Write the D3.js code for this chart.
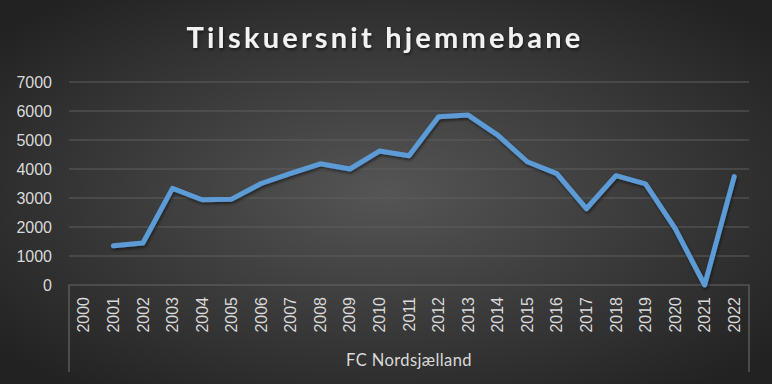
<!DOCTYPE html>
<html>
<head>
<meta charset="utf-8">
<script src="https://cdn.jsdelivr.net/npm/d3@7/dist/d3.min.js"></script>
<style>
	body { margin: 0; background: #262626; }
	svg { display: block; font-family: Lato, "Open Sans", sans-serif; }
</style>
</head>
<body>
<div id="chart"></div>
<script>
const years = ['2000','2001','2002','2003','2004','2005','2006','2007','2008','2009','2010','2011',
	'2012','2013','2014','2015','2016','2017','2018','2019','2020','2021','2022']
const attendance = [null, 1350, 1450, 3330, 2940, 2960, 3500, 3850, 4180, 4000, 4620, 4460,
	5800, 5860, 5170, 4250, 3840, 2630, 3770, 3490, 1950, 0, 3740]
const yTicks = [0, 1000, 2000, 3000, 4000, 5000, 6000, 7000]
const title = 'Tilskuersnit hjemmebane'
const group = 'FC Nordsjælland'

const W = 772, H = 384
const m = {left: 69, right: 23, top: 82, bottom: 99}

const $svg = d3.select('#chart').append('svg')
	.attr('width', W)
	.attr('height', H)

const defs = $svg.append('defs')
const grad = defs.append('radialGradient')
	.attr('id', 'bg')
	.attr('cx', '50%').attr('cy', '50%').attr('r', '65%')
grad.append('stop').attr('offset', '0%').attr('stop-color', '#555555')
grad.append('stop').attr('offset', '100%').attr('stop-color', '#222222')

const shadow = defs.append('filter').attr('id', 'shadow')
	.attr('x', '-10%').attr('y', '-10%').attr('width', '120%').attr('height', '130%')
shadow.append('feDropShadow')
	.attr('dx', 1).attr('dy', 2).attr('stdDeviation', 1.5)
	.attr('flood-color', '#000').attr('flood-opacity', 0.5)

$svg.append('rect')
	.attr('width', W).attr('height', H)
	.attr('fill', 'url(#bg)')

let x = d3.scaleBand()
	.domain(years)
	.range([m.left, W - m.right])

let y = d3.scaleLinear()
	.domain([0, 7000])
	.range([H - m.bottom, m.top])

// Title
$svg.append('text')
	.attr('x', 385)
	.attr('y', 48)
	.attr('text-anchor', 'middle')
	.attr('fill', '#f2f2f2')
	.style('font-size', '29px')
	.style('font-weight', 'bold')
	.style('letter-spacing', '3.2px')
	.attr('filter', 'url(#shadow)')
	.text(title)

// Gridlines
$svg.append('g')
	.selectAll('line')
	.data(yTicks.filter(d => d > 0))
	.enter()
	.append('line')
	.attr('x1', m.left).attr('x2', W - m.right)
	.attr('y1', d => y(d)).attr('y2', d => y(d))
	.attr('stroke', '#5e5e5e')
	.attr('stroke-width', 1.2)

// Y axis labels
const $yAxis = $svg.append('g')
	.attr('transform', `translate(${m.left - 17}, 0)`)
	.call(d3.axisLeft(y).tickValues(yTicks).tickSize(0).tickPadding(0).tickFormat(d3.format('d')))
$yAxis.select('.domain').remove()
$yAxis.selectAll('text')
	.attr('fill', '#d9d9d9')
	.style('font-size', '16px')

// Category axis box
const y0 = y(0)
const boxBottom = 372
$svg.append('path')
	.attr('d', `M${m.left},${boxBottom}V${y0}H${W - m.right}V${boxBottom}`)
	.attr('fill', 'none')
	.attr('stroke', '#666666')
	.attr('stroke-width', 1.2)

const $xAxis = $svg.append('g')
	.attr('transform', `translate(0, ${y0})`)
	.call(d3.axisBottom(x).tickSize(0).tickPadding(0))
$xAxis.select('.domain').remove()
$xAxis.selectAll('text')
	.attr('fill', '#d9d9d9')
	.style('font-size', '16px')
	.attr('text-anchor', 'end')
	.attr('dy', '0.35em')
	.attr('transform', 'translate(0, 12) rotate(-90)')

$svg.append('text')
	.attr('x', 409)
	.attr('y', 366)
	.attr('text-anchor', 'middle')
	.attr('fill', '#d9d9d9')
	.style('font-size', '16.5px')
	.style('letter-spacing', '0.4px')
	.text(group)

// Line
const line = d3.line()
	.defined(d => d != null)
	.x((d, i) => x(years[i]) + x.bandwidth() / 2)
	.y(d => y(d))

$svg.append('path')
	.datum(attendance)
	.attr('d', line)
	.attr('fill', 'none')
	.attr('stroke', '#5b9bd5')
	.attr('stroke-width', 5)
	.attr('stroke-linejoin', 'round')
	.attr('stroke-linecap', 'round')
	.attr('filter', 'url(#shadow)')
</script>
</body>
</html>
